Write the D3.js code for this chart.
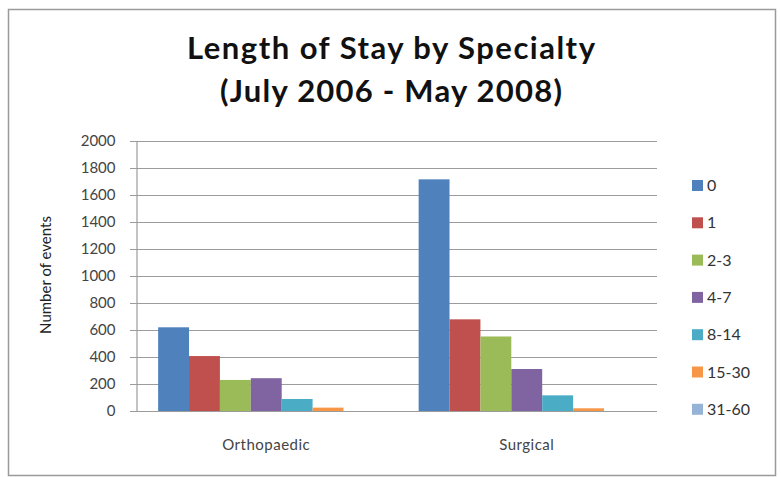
<!DOCTYPE html>
<html><head><meta charset="utf-8">
<script src="https://cdn.jsdelivr.net/npm/d3@7"></script>
<style>body{margin:0;background:#fff}svg{display:block}</style>
</head><body>
<svg id="c" width="781" height="477"></svg>
<script>
const categories = ["Orthopaedic", "Surgical"];
const seriesNames = ["0", "1", "2-3", "4-7", "8-14", "15-30", "31-60"];
const orthopaedic = [620, 407, 230, 243, 89, 25, 0];
const surgical = [1716, 679, 552, 311, 116, 20, 0];
const colors = ["#4F81BD", "#C0504D", "#9BBB59", "#8064A2", "#4BACC6", "#F79646", "#95B3D7"];
const yTicks = [0, 200, 400, 600, 800, 1000, 1200, 1400, 1600, 1800, 2000];
const titleLines = ["Length of Stay by Specialty", "(July 2006 - May 2008)"];

const values = [orthopaedic, surgical];
const svg = d3.select("#c");
const font = "Lato, 'Open Sans', sans-serif";

svg.append("rect").attr("x", 8.5).attr("y", 9.5).attr("width", 767).attr("height", 466)
  .attr("fill", "#fff").attr("stroke", "#9a9a9a").attr("stroke-width", 1.5);

const x0 = d3.scaleBand().domain(categories).range([136, 657]).paddingInner(0.17).paddingOuter(0.085);
const x1 = d3.scaleBand().domain(seriesNames).range([0, x0.bandwidth()]);
const y = d3.scaleLinear().domain([0, 2000]).range([411, 141]);

const g = svg.append("g");
g.selectAll("line.grid").data(yTicks).join("line")
  .attr("x1", 130).attr("x2", 657)
  .attr("y1", d => Math.round(y(d)) + 0.5).attr("y2", d => Math.round(y(d)) + 0.5)
  .attr("stroke", "#9c9c9c").attr("stroke-width", 1.2);

const ax = g.append("g").attr("transform", "translate(136.5,0)")
  .call(d3.axisLeft(y).tickValues(yTicks).tickSize(0).tickPadding(21).tickFormat(d3.format("d")));
ax.select(".domain").attr("stroke", "#9c9c9c").attr("stroke-width", 1.2);
ax.selectAll("text").attr("font-family", font).attr("font-size", 15).attr("fill", "#444");

const groups = g.selectAll("g.cat").data(categories).join("g")
  .attr("transform", d => `translate(${x0(d)},0)`);
groups.selectAll("rect").data((d, i) => values[i].map((v, j) => ({ s: seriesNames[j], v, c: colors[j] })))
  .join("rect")
  .attr("x", d => x1(d.s)).attr("width", x1.bandwidth())
  .attr("y", d => y(d.v)).attr("height", d => y(0) - y(d.v))
  .attr("fill", d => d.c);

g.selectAll("text.cat").data(categories).join("text")
  .attr("x", d => x0(d) + x0.bandwidth() / 2).attr("y", 450)
  .attr("text-anchor", "middle").attr("font-family", font).attr("font-size", 15)
  .attr("fill", "#444").attr("letter-spacing", 0.5).text(d => d);

svg.append("text").attr("transform", "translate(51,275) rotate(-90)")
  .attr("text-anchor", "middle").attr("font-family", font).attr("font-size", 15)
  .attr("fill", "#222").text("Number of events");

const titleY = [59, 102];
const titleW = [408, 342];
titleLines.forEach((t, i) => {
  svg.append("text").attr("x", 391).attr("y", titleY[i])
    .attr("text-anchor", "middle").attr("font-family", font).attr("font-weight", "bold")
    .attr("font-size", 31).attr("fill", "#111")
    .attr("textLength", titleW[i]).attr("lengthAdjust", "spacing").text(t);
});

const leg = svg.append("g").selectAll("g").data(seriesNames).join("g")
  .attr("transform", (d, i) => `translate(692,${185 + i * 37.3})`);
leg.append("rect").attr("x", 0).attr("y", -5).attr("width", 11).attr("height", 11)
  .attr("fill", (d, i) => colors[i]);
leg.append("text").attr("x", 15).attr("y", 6).attr("font-family", font).attr("font-size", 16)
  .attr("fill", "#333").text(d => d);
</script>
</body></html>
